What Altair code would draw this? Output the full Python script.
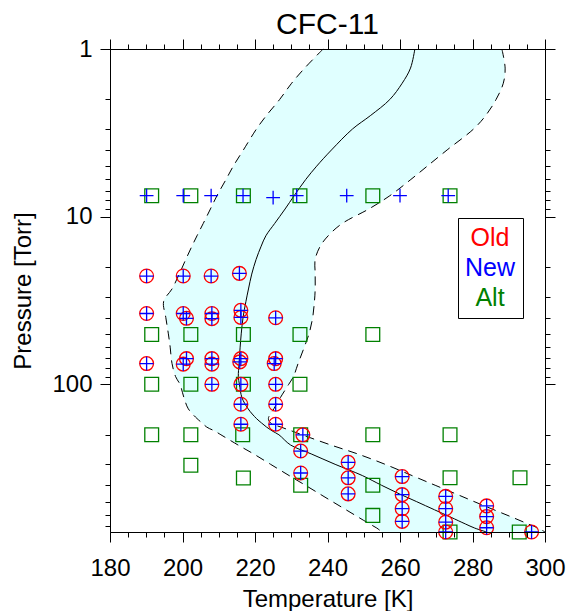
import altair as alt
import pandas as pd

FONT = "Liberation Sans"

# ---- band (envelope) and mean profile ----
P_LEVELS = [1, 1.3, 1.6, 2, 2.5, 3, 4, 5, 6, 7.5, 9, 11, 13, 15, 18, 22, 27, 32, 40, 50,
            60, 75, 90, 100, 120, 140, 160, 170, 180, 190, 200, 230, 260, 300, 350, 400,
            450, 500, 560, 620, 680, 720, 760]
T_LOW = [238.8, 233.7, 230.1, 226.8, 223.1, 220.4, 216.8, 214.0, 212.0, 209.5, 207.7, 205.7,
         204.0, 202.6, 200.9, 199.1, 197.1, 194.8, 195.4, 196.1, 196.6, 197.1, 198.1, 199.3,
         200.4, 201.6, 204.0, 205.4, 206.7, 208.9, 210.6, 215.3, 219.6, 224.3, 229.4, 233.9,
         237.8, 241.3, 245.1, 248.5, 251.6, 253.6, 255.0]
T_MID = [264.1, 262.9, 260.6, 257.2, 251.8, 246.9, 241.1, 237.0, 234.0, 230.8, 228.3, 225.4,
         223.0, 221.7, 220.3, 219.1, 218.2, 217.5, 216.7, 216.2, 215.9, 215.6, 215.4, 215.7,
         216.4, 218.1, 220.4, 221.8, 223.2, 224.8, 226.6, 229.8, 235.5, 242.1, 249.6, 254.9,
         259.8, 264.5, 269.5, 274.0, 278.0, 280.6, 283.9]
T_HIGH = [288.1, 289.0, 288.5, 286.5, 283.6, 280.3, 273.0, 267.5, 263.0, 257.2, 251.4, 244.0,
          240.2, 238.0, 236.6, 236.6, 236.6, 236.4, 235.9, 234.9, 233.6, 231.9, 230.6, 229.3,
          227.0, 225.2, 223.7, 224.3, 227.2, 230.2, 233.0, 240.9, 248.3, 255.9, 263.3, 269.7,
          275.4, 280.4, 285.9, 290.9, 295.3, 298.1, 300.0]

# ---- measurement points ----
OLD_T = [190.1, 200.2, 207.9, 215.7,
         190.1, 200.2, 201.1, 208.1, 208.1, 216.1, 216.1, 225.7,
         190.1, 200.2, 201.1, 208.1, 208.1, 216.1, 215.8, 225.7, 225.3,
         208.1, 216.1, 225.7,
         216.1, 225.7,
         216.1, 225.7,
         233.2, 232.6, 232.6,
         245.7, 245.7, 245.7,
         260.6, 260.6, 260.6, 260.6,
         272.6, 272.6, 272.6, 272.6,
         283.9, 283.9, 283.9,
         296.3]
OLD_P = [22.6, 22.6, 22.6, 21.8,
         37.8, 37.8, 40.4, 37.8, 40.6, 36.2, 39.9, 40.1,
         75.2, 75.8, 70.3, 70.3, 75.8, 70.3, 73.5, 70.3, 75.2,
         100, 100, 100,
         131.5, 131.5,
         173, 173,
         200, 250, 338,
         292, 361, 450,
         355, 455, 552, 657,
         466, 552, 664, 760,
         531, 615, 717,
         760]

NEW_T = [190.1, 200.2, 207.9, 216.7, 225.0, 231.5, 245.3, 260.0, 273.3,
         190.1, 200.2, 207.9, 215.7,
         190.1, 200.2, 201.1, 208.1, 208.1, 216.1, 216.1, 225.7,
         190.1, 200.2, 201.1, 208.1, 208.1, 216.1, 215.8, 225.7, 225.3,
         208.1, 216.1, 225.7,
         216.1, 225.7,
         216.1, 225.7,
         233.2, 232.6, 232.6,
         245.7, 245.7, 245.7,
         260.6, 260.6, 260.6, 260.6,
         272.6, 272.6, 272.6, 272.6,
         283.9, 283.9, 283.9,
         296.3]
NEW_P = [7.5, 7.5, 7.5, 7.5, 7.7, 7.5, 7.5, 7.5, 7.5,
         22.6, 22.6, 22.6, 21.8,
         37.8, 37.8, 40.4, 37.8, 40.6, 36.2, 39.9, 40.1,
         75.2, 75.8, 70.3, 70.3, 75.8, 70.3, 73.5, 70.3, 75.2,
         100, 100, 100,
         131.5, 131.5,
         173, 173,
         200, 250, 338,
         292, 361, 450,
         355, 455, 552, 657,
         466, 552, 664, 760,
         531, 615, 717,
         760]

ALT_T = [191.5, 202.3, 216.8, 232.4, 252.5, 273.8,
         191.5, 202.3, 216.8, 232.4, 252.5,
         191.5, 202.3, 216.8, 232.4,
         191.5, 202.3, 216.6, 232.6, 252.5, 273.8,
         202.3, 216.8, 232.6, 252.5, 273.8, 293.1, 252.5, 273.8, 292.9]
ALT_P = [7.5, 7.5, 7.5, 7.5, 7.5, 7.5,
         50.4, 50.4, 50.4, 50.4, 50.4,
         100, 100, 100, 100,
         200, 200, 200, 200, 200, 200,
         304, 362, 400, 400, 361, 361, 605, 760, 760]

SERIES = ["Old", "New", "Alt"]
SERIES_COLORS = ["#ff0000", "#0000ff", "#008000"]
PLUS = "M-1,0H1M0,-1V1"
SERIES_SHAPES = ["circle", PLUS, "square"]

# ---- axis ticks ----
X_MAJOR = [180, 200, 220, 240, 260, 280, 300]
X_MINOR = list(range(180, 301, 5))
Y_MAJOR = [1, 10, 100]
Y_MINOR = [2, 3, 4, 5, 6, 7, 8, 9, 20, 30, 40, 50, 60, 70, 80, 90, 200, 300, 400, 500, 600, 700]

band = pd.DataFrame({"P": P_LEVELS, "lo": T_LOW, "mid": T_MID, "hi": T_HIGH})
pts = pd.concat([
    pd.DataFrame({"T": ALT_T, "P": ALT_P, "series": "Alt"}),
    pd.DataFrame({"T": OLD_T, "P": OLD_P, "series": "Old"}),
    pd.DataFrame({"T": NEW_T, "P": NEW_P, "series": "New"}),
], ignore_index=True)

xscale = alt.Scale(domain=[180, 300], nice=False, zero=False)
yscale = alt.Scale(type="log", domain=[1, 760], reverse=True, nice=False)

common = dict(grid=False, tickColor="black", domainColor="black", tickWidth=1,
              domainWidth=1, labelFlush=False, labelOverlap=False)


def ax(orient, values, size, labels=False, title=None, domain=True, **kw):
    opts = dict(common)
    opts.update(orient=orient, values=values, tickSize=size, labels=labels,
                domain=domain, title=title, zindex=1)
    opts.update(kw)
    return alt.Axis(**opts)


x_bottom = ax("bottom", X_MAJOR, 10, labels=True, title="Temperature [K]",
              labelFont=FONT, labelFontSize=24, labelColor="black", labelPadding=14,
              titleFont=FONT, titleFontSize=24, titleFontWeight="normal",
              titleColor="black", titlePadding=7)
x_bottom_minor = ax("bottom", X_MINOR, 5, domain=False)
x_top = ax("top", X_MAJOR, 10)
x_top_minor = ax("top", X_MINOR, 5, domain=False)

y_left = ax("left", Y_MAJOR, 10, labels=True, title="Pressure [Torr]", format="d",
            labelFont=FONT, labelFontSize=24, labelColor="black", labelPadding=8,
            titleFont=FONT, titleFontSize=24, titleFontWeight="normal",
            titleColor="black", titlePadding=16)
y_left_minor = ax("left", Y_MINOR, 5, domain=False)
y_right = ax("right", Y_MAJOR, 10)
y_right_minor = ax("right", Y_MINOR, 5, domain=False)

base = alt.Chart(band)

area = base.mark_area(orient="horizontal", interpolate="catmull-rom",
                      color="#e0ffff", opacity=1).encode(
    x=alt.X("lo:Q", scale=xscale, axis=x_bottom),
    x2="hi:Q",
    y=alt.Y("P:Q", scale=yscale, axis=y_left),
)

line_lo = base.mark_line(interpolate="catmull-rom", color="black", strokeWidth=1,
                         strokeDash=[9, 6]).encode(
    x=alt.X("lo:Q", scale=xscale, axis=x_bottom_minor),
    y=alt.Y("P:Q", scale=yscale, axis=y_left_minor),
    order=alt.Order("P:Q"),
)
line_hi = base.mark_line(interpolate="catmull-rom", color="black", strokeWidth=1,
                         strokeDash=[9, 6]).encode(
    x=alt.X("hi:Q", scale=xscale, axis=x_top),
    y=alt.Y("P:Q", scale=yscale, axis=y_right),
    order=alt.Order("P:Q"),
)
line_mid = base.mark_line(interpolate="catmull-rom", color="black", strokeWidth=1).encode(
    x=alt.X("mid:Q", scale=xscale, axis=x_top_minor),
    y=alt.Y("P:Q", scale=yscale, axis=y_right_minor),
    order=alt.Order("P:Q"),
)

label_color = {"expr": "datum.label == 'Old' ? '#ff0000' : (datum.label == 'New' ? '#0000ff' : '#008000')"}

points = alt.Chart(pts).mark_point(filled=False, size=190, strokeWidth=1.3, opacity=1).encode(
    x=alt.X("T:Q", scale=xscale, axis=None),
    y=alt.Y("P:Q", scale=yscale, axis=None),
    color=alt.Color("series:N",
                    scale=alt.Scale(domain=SERIES, range=SERIES_COLORS),
                    legend=alt.Legend(orient="none", legendX=348, legendY=169, title=None,
                                      symbolOpacity=0, symbolSize=0, symbolStrokeWidth=0,
                                      labelFont=FONT, labelFontSize=25, labelAlign="center",
                                      labelOffset=0, labelColor=label_color,
                                      strokeColor="black", fillColor="white",
                                      padding=7, rowPadding=4)),
    shape=alt.Shape("series:N", scale=alt.Scale(domain=SERIES, range=SERIES_SHAPES),
                    legend=None),
    order=alt.Order("idx:Q"),
).transform_calculate(idx="0")

chart = alt.layer(area, line_lo, line_hi, line_mid, points).resolve_axis(
    x="independent", y="independent"
).properties(
    width=435, height=483,
    padding={"left": 110, "top": 49, "right": 27, "bottom": 79},
    autosize=alt.AutoSizeParams(type="none"),
    title=alt.TitleParams("CFC-11", font=FONT, fontSize=30, fontWeight="normal",
                          color="black", anchor="middle", baseline="alphabetic", offset=-27),
).configure_view(stroke=None).configure(background="white")

chart.save("out.html", embed_options={"renderer": "svg", "actions": False})
